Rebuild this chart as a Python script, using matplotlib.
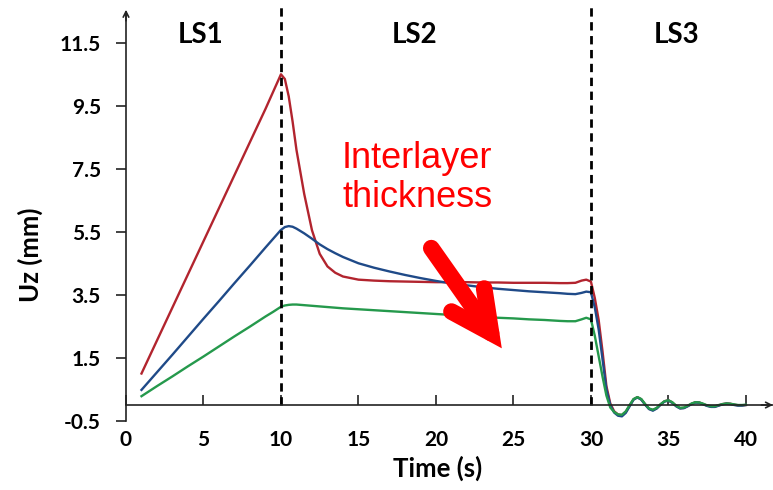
import matplotlib
matplotlib.use("Agg")
import matplotlib.pyplot as plt

# time axis (s)
time_s = [1, 2, 3, 4, 5, 6, 7, 8, 9, 9.5, 10, 10.25, 10.5, 10.75, 11, 11.5, 12,
          12.5, 13, 13.5, 14, 15, 16, 17, 18, 19, 20, 21, 22, 23, 24, 25, 26, 27,
          28, 28.5, 29, 29.4, 29.7,
          30, 30.25, 30.5, 30.75, 31, 31.25, 31.5, 31.75, 32, 32.25, 32.5, 32.75,
          33, 33.25, 33.5, 33.75, 34, 34.25, 34.5, 34.75, 35, 35.25, 35.5, 35.75,
          36, 36.25, 36.5, 36.75, 37, 37.25, 37.5, 37.75, 38, 38.25, 38.5, 38.75,
          39, 39.25, 39.5, 39.75, 40]

# Uz (mm) per interlayer thickness
uz_red = [1.0, 2.05, 3.1, 4.15, 5.2, 6.25, 7.3, 8.35, 9.4, 9.95, 10.5, 10.35, 9.8,
          9.0, 8.1, 6.7, 5.55, 4.8, 4.4, 4.2, 4.08, 3.98, 3.95, 3.93, 3.92, 3.91,
          3.9, 3.9, 3.9, 3.89, 3.89, 3.88, 3.88, 3.88, 3.87, 3.87, 3.88, 3.95, 3.98,
          3.92, 3.4, 2.7, 1.7, 0.6, 0.05, -0.2, -0.3, -0.32, -0.22, -0.02, 0.18,
          0.25, 0.18, 0.02, -0.12, -0.16, -0.1, 0.02, 0.12, 0.15, 0.08, -0.03, -0.1,
          -0.09, -0.03, 0.04, 0.09, 0.08, 0.03, -0.02, -0.05, -0.05, -0.01, 0.03, 0.05,
          0.04, 0.01, -0.01, -0.01, 0.0]
uz_blue = [0.48, 1.04, 1.6, 2.17, 2.74, 3.3, 3.87, 4.43, 5.0, 5.28, 5.56, 5.65, 5.68,
           5.66, 5.6, 5.45, 5.28, 5.1, 4.95, 4.82, 4.7, 4.5, 4.36, 4.24, 4.13, 4.03,
           3.94, 3.86, 3.8, 3.74, 3.69, 3.65, 3.61, 3.58, 3.55, 3.53, 3.52, 3.56, 3.6,
           3.58, 3.1, 2.4, 1.45, 0.5, 0.0, -0.24, -0.34, -0.36, -0.25, -0.04, 0.17,
           0.24, 0.17, 0.01, -0.13, -0.18, -0.11, 0.01, 0.11, 0.14, 0.07, -0.04, -0.11,
           -0.1, -0.04, 0.03, 0.08, 0.07, 0.02, -0.03, -0.06, -0.06, -0.02, 0.02, 0.04,
           0.03, 0.0, -0.02, -0.02, 0.0]
uz_green = [0.28, 0.6, 0.91, 1.23, 1.54, 1.86, 2.18, 2.49, 2.81, 2.96, 3.12, 3.16,
            3.18, 3.19, 3.19, 3.17, 3.15, 3.13, 3.11, 3.09, 3.07, 3.04, 3.01, 2.98,
            2.95, 2.92, 2.89, 2.86, 2.83, 2.8, 2.77, 2.75, 2.72, 2.7, 2.67, 2.66, 2.66,
            2.72, 2.77,
            2.72, 2.2, 1.55, 0.9, 0.3, -0.08, -0.22, -0.3, -0.31, -0.2, 0.0, 0.19,
            0.25, 0.19, 0.03, -0.11, -0.15, -0.09, 0.03, 0.12, 0.15, 0.09, -0.02, -0.09,
            -0.08, -0.02, 0.05, 0.09, 0.08, 0.04, -0.01, -0.04, -0.04, 0.0, 0.03, 0.05,
            0.04, 0.02, 0.0, 0.0, 0.01]

stage_bounds = [10, 30]
stage_names = ['LS1', 'LS2', 'LS3']
stage_x = [4.8, 18.6, 35.5]
x_ticks = [0, 5, 10, 15, 20, 25, 30, 35, 40]
y_ticks = [-0.5, 1.5, 3.5, 5.5, 7.5, 9.5, 11.5]

font_b = 'Lato'
fig = plt.figure(figsize=(7.73, 4.9), dpi=100)
ax = fig.add_axes([0.163, 0.1413, 0.837, 0.8485])

ax.plot(time_s, uz_red, color='#B2242E', lw=1.7)
ax.plot(time_s, uz_blue, color='#1F4A88', lw=1.7)
ax.plot(time_s, uz_green, color='#25994C', lw=1.7)

for xb in stage_bounds:
    ax.plot([xb, xb], [0, 12.65], color='black', lw=2, ls=(0, (3, 2)))

for name, xs in zip(stage_names, stage_x):
    ax.text(xs, 11.75, name, ha='center', va='center', fontsize=20,
            fontweight='bold', family=font_b)

ax.text(18.8, 7.2, 'Interlayer\nthickness', ha='center', va='center',
        fontsize=26, color='red', family='Liberation Sans', linespacing=1.15)
ax.annotate('', xy=(24.25, 1.8), xytext=(19.7, 4.98),
            arrowprops=dict(arrowstyle='->,head_length=1.45,head_width=0.72',
                            lw=12, color='red', mutation_scale=20,
                            shrinkA=0, shrinkB=0, capstyle='round',
                            joinstyle='miter'))

ax.set_xlim(0, 41.75)
ax.set_ylim(-0.5, 12.7)

ax.spines['top'].set_visible(False)
ax.spines['right'].set_visible(False)
ax.spines['bottom'].set_position(('data', 0))
ax.spines['left'].set_bounds(-0.5, 12.4)
for s in ['bottom', 'left']:
    ax.spines[s].set_linewidth(1.2)
    ax.spines[s].set_color('#222222')

# small axis arrow heads
ax.annotate('', xy=(0, 12.55), xytext=(0, 12.2),
            arrowprops=dict(arrowstyle='->', lw=1.2, color='#222222',
                            shrinkA=0, shrinkB=0))
ax.annotate('', xy=(41.75, 0), xytext=(41.0, 0),
            arrowprops=dict(arrowstyle='->', lw=1.2, color='#222222',
                            shrinkA=0, shrinkB=0))

ax.set_xticks(x_ticks)
ax.set_yticks(y_ticks)
ax.set_yticklabels(['%.1f' % v for v in y_ticks])
ax.tick_params(axis='x', direction='in', length=7, width=1.2, pad=18,
               labelsize=15, colors='#222222')
ax.tick_params(axis='y', direction='out', length=7, width=1.2, pad=11,
               labelsize=15, colors='#222222')
for lab in ax.get_xticklabels() + ax.get_yticklabels():
    lab.set_fontweight('bold')
    lab.set_family(font_b)
    lab.set_color('black')

fig.text(0.5665, 0.045, 'Time (s)', ha='center', va='center', fontsize=18.5,
         fontweight='bold', family=font_b)
fig.text(0.039, 0.48, 'Uz (mm)', ha='center', va='center', fontsize=18.5,
         fontweight='bold', family=font_b, rotation=90)

fig.savefig('out.png', dpi=100)
